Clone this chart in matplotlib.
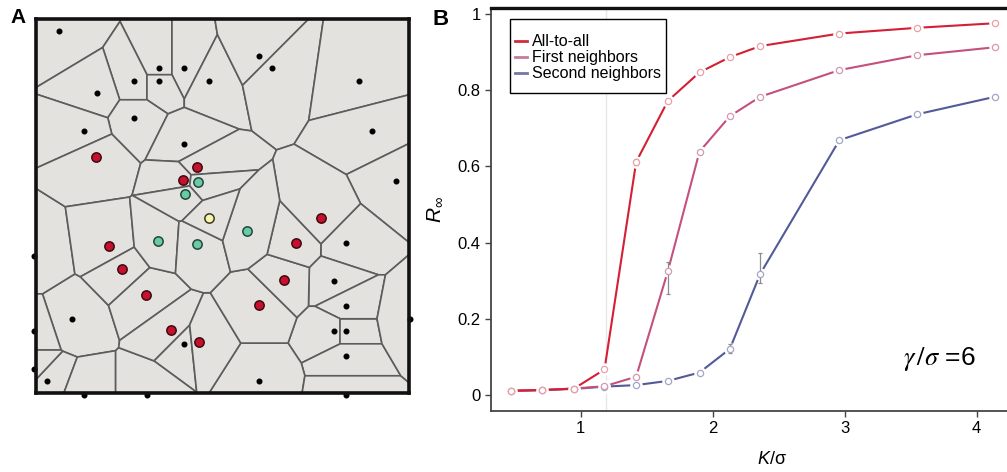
import matplotlib
matplotlib.use('Agg')
import matplotlib.pyplot as plt
from matplotlib.lines import Line2D
from matplotlib.patches import Rectangle
import numpy as np

plt.rcParams['font.family'] = ['Liberation Sans', 'DejaVu Sans']
plt.rcParams['mathtext.fontset'] = 'custom'
plt.rcParams['mathtext.rm'] = 'Liberation Sans'
plt.rcParams['mathtext.it'] = 'Liberation Sans:italic'

# ---- panel A: seeds of the Voronoi tessellation (box units 0..100) ----
black_x = [6.3, 33.1, 39.8, 26.4, 33.1, 46.4, 16.3, 59.9, 63.2, 86.6, 26.4, 13.0, 39.8,
           90.0, 96.6, 83.2, 79.9, 83.2, 79.9, 83.2, 83.2, 59.9, 39.8, 9.6, 2.9]
black_y = [96.8, 86.8, 86.8, 83.4, 83.4, 83.4, 80.1, 90.1, 86.8, 83.4, 73.4, 70.1, 66.7,
           70.1, 56.7, 40.0, 29.9, 23.2, 16.5, 16.5, 9.8, 3.2, 13.2, 19.9, 3.2]
# seeds sitting on the frame
edge_x = [-0.6, -0.6, -0.6, 13.0, 29.7, 83.2, 100.3]
edge_y = [36.5, 16.5, 6.5, -0.6, -0.6, -0.6, 19.9]
red_x = [16.1, 43.1, 39.3, 19.7, 23.1, 29.5, 36.2, 43.6, 59.9, 66.5, 69.6, 76.4]
red_y = [63.2, 60.5, 56.9, 39.4, 33.2, 26.2, 16.8, 13.6, 23.5, 30.2, 40.2, 46.7]
teal_x = [43.4, 39.9, 32.8, 43.1, 56.5]
teal_y = [56.4, 53.3, 40.6, 39.9, 43.3]
yellow_x = [46.4]
yellow_y = [46.7]

# ---- panel B data ----
k_sigma = [0.47, 0.71, 0.95, 1.18, 1.42, 1.66, 1.90, 2.13, 2.36, 2.96, 3.55, 4.14]
r_all = [0.011, 0.013, 0.017, 0.067, 0.612, 0.772, 0.847, 0.887, 0.916, 0.949, 0.964, 0.976]
r_first = [0.011, 0.013, 0.017, 0.023, 0.048, 0.325, 0.639, 0.732, 0.783, 0.853, 0.892, 0.913]
r_second = [0.011, 0.013, 0.016, 0.022, 0.026, 0.037, 0.059, 0.121, 0.318, 0.669, 0.737, 0.783]
err_all = ([0.003] * 4 + [0.008] + [0.004] * 7, [0.003] * 4 + [0.008] + [0.004] * 7)
err_first = ([0.003] * 5 + [0.06] + [0.005] * 6, [0.003] * 5 + [0.025] + [0.005] * 6)
err_second = ([0.003] * 7 + [0.012, 0.025] + [0.005] * 3,
              [0.003] * 7 + [0.012, 0.054] + [0.005] * 3)
crit_k = 1.19
labels = ['All-to-all', 'First neighbors', 'Second neighbors']


def clip(poly, n, c):
    # keep the part of poly with n.p <= c
    out = []
    for i in range(len(poly)):
        p, q = poly[i], poly[(i + 1) % len(poly)]
        dp, dq = n @ p - c, n @ q - c
        if dp <= 0:
            out.append(p)
        if dp * dq < 0:
            out.append(p + dp / (dp - dq) * (q - p))
    return np.array(out)


seeds = np.array(list(zip(black_x + edge_x + red_x + teal_x + yellow_x,
                          black_y + edge_y + red_y + teal_y + yellow_y)))

fig = plt.figure(figsize=(10.07, 4.72), dpi=100)

axA = fig.add_axes([36 / 1007, 79 / 472, 373 / 1007, 374 / 472])
box = np.array([[0, 0], [100, 0], [100, 100], [0, 100]], float)
for i, s in enumerate(seeds):
    cell = box.copy()
    for j, t in enumerate(seeds):
        if i == j or len(cell) == 0:
            continue
        cell = clip(cell, t - s, (t @ t - s @ s) / 2)
    if len(cell) > 2:
        axA.fill(cell[:, 0], cell[:, 1], facecolor='#e4e2de', edgecolor='#5c5c5c', lw=1.2)

axA.scatter(black_x, black_y, s=11, color='black', zorder=3)
axA.scatter(edge_x, edge_y, s=11, color='black', zorder=3, clip_on=False)
axA.scatter(red_x, red_y, s=45, color='#c8102e', edgecolor='#3a0c10', lw=1.1, zorder=3)
axA.scatter(teal_x, teal_y, s=45, color='#6cc9a6', edgecolor='#1f4a3a', lw=1.1, zorder=3)
axA.scatter(yellow_x, yellow_y, s=45, color='#f7f4b2', edgecolor='#3a3a20', lw=1.1, zorder=3)
axA.set_xlim(0, 100)
axA.set_ylim(0, 100)
axA.set_xticks([])
axA.set_yticks([])
for sp in axA.spines.values():
    sp.set_linewidth(2.6)
    sp.set_color('#111111')
    sp.set_zorder(5)
fig.text(10 / 1007, 1 - 23 / 472, 'A', fontsize=15, fontweight='bold')

# ---- panel B ----
axB = fig.add_axes([491 / 1007, 61 / 472, 516 / 1007, 403 / 472])
axB.axvline(crit_k, color='#e6e6e6', lw=1, zorder=0)

series = [
    (r_second, err_second, '#525a98', '#a4a6c8'),
    (r_first, err_first, '#c4507e', '#d49ab4'),
    (r_all, err_all, '#d41f35', '#eba0a8'),
]
for vals, err, col, pale in series:
    axB.plot(k_sigma, vals, '-', color=col, lw=1.5, marker='o', ms=8,
             mfc='white', mec='white', zorder=2)
    axB.errorbar(k_sigma, vals, yerr=err, fmt='o', ms=4.5, mfc='white', mec=pale,
                 mew=0.9, ecolor='#8c8c8c', elinewidth=0.9, capsize=1.5, zorder=3)

axB.set_xlim(0.32, 4.23)
axB.set_ylim(-0.042, 1.016)
axB.set_xticks([1, 2, 3, 4])
axB.set_yticks([0, 0.2, 0.4, 0.6, 0.8, 1])
axB.set_yticklabels(['0', '0.2', '0.4', '0.6', '0.8', '1'])
axB.tick_params(labelsize=12, length=4, width=1, color='#444444')
axB.spines['right'].set_visible(False)
for side in ['left', 'bottom']:
    axB.spines[side].set_color('#444444')
    axB.spines[side].set_linewidth(1.3)
axB.spines['top'].set_color('#111111')
axB.spines['top'].set_linewidth(2.4)

axB.set_xlabel('$K$/σ', fontsize=13)
axB.xaxis.set_label_coords(0.545, -0.10)
axB.set_ylabel(r'$R_{\infty}$', fontsize=15)
axB.yaxis.set_label_coords(-0.09, 0.5)

axB.text(3.99, 0.078, r'$\gamma\,/\sigma$ =6', fontsize=19, ha='right', va='baseline',
         math_fontfamily='stix')

# legend: box drawn by hand (tall, narrow padding like the original)
axB.add_patch(Rectangle((0.037, 0.789), 0.302, 0.184, transform=axB.transAxes,
                        facecolor='white', edgecolor='black', lw=1.0, zorder=4))
handles = [Line2D([], [], color='#d42a3a', lw=2),
           Line2D([], [], color='#c87a9a', lw=2),
           Line2D([], [], color='#7478a0', lw=2)]
leg = axB.legend(handles, labels, loc='upper left', bbox_to_anchor=(0.046, 0.935),
                 fontsize=11.5, handlelength=0.75, handletextpad=0.3, labelspacing=0.06,
                 borderpad=0, frameon=False, borderaxespad=0)
leg.set_zorder(5)

fig.text(433 / 1007, 1 - 25 / 472, 'B', fontsize=16, fontweight='bold')

fig.savefig('out.png', dpi=100)
